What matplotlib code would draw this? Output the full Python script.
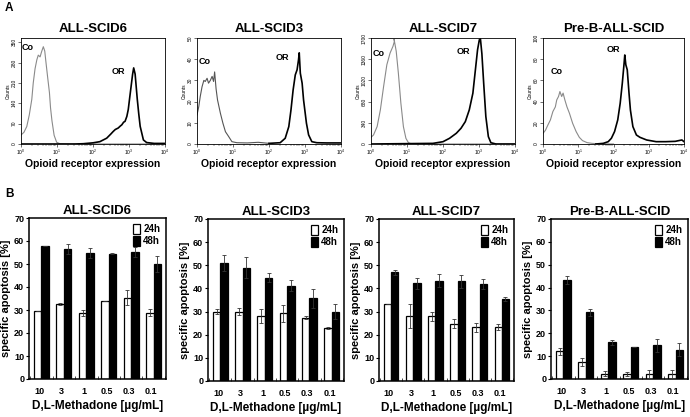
import numpy as np
import matplotlib
matplotlib.use('Agg')
from matplotlib import pyplot as plt
from matplotlib.patches import Patch

plt.rcParams['font.family'] = ['Liberation Sans', 'DejaVu Sans']

W, H = 690, 417

# ---- panel A: flow histograms (x in log10 channel, y in counts) ----
hist_titles = ['ALL-SCID6', 'ALL-SCID3', 'ALL-SCID7', 'Pre-B-ALL-SCID']
hist_ymax = [365, 50, 1700, 100]
hist_yticks = [[0, 70, 140, 210, 280, 350], [0, 10, 20, 30, 40, 50],
               [0, 340, 680, 1020, 1360, 1700], [0, 20, 40, 60, 80, 100]]

co6_x = [0.0, 0.08, 0.16, 0.23, 0.30, 0.34, 0.39, 0.44, 0.48, 0.53, 0.57, 0.62, 0.66,
         0.69, 0.74, 0.79, 0.82, 0.86, 0.92, 0.99, 1.08, 1.3, 2.0, 3.0, 4.0]
co6_y = [31, 40, 60, 100, 154, 210, 259, 290, 306, 300, 317, 335, 320,
         285, 230, 177, 125, 80, 30, 6, 1, 0, 0, 0, 0]
or6_x = [0.0, 1.5, 1.73, 2.0, 2.19, 2.38, 2.5, 2.56, 2.62, 2.7, 2.76, 2.8, 2.85, 2.89,
         2.94, 2.98, 3.02, 3.06, 3.1, 3.13, 3.17, 3.23, 3.27, 3.31, 3.4, 3.49, 3.7, 4.0]
or6_y = [0, 0, 1, 4, 8, 20, 35, 43, 50, 55, 62, 66, 75, 78,
         95, 119, 160, 200, 240, 262, 241, 154, 105, 61, 14, 5, 2, 2]

co3_x = [0.0, 0.05, 0.09, 0.14, 0.19, 0.23, 0.28, 0.32, 0.37, 0.42, 0.46, 0.49, 0.53,
         0.57, 0.65, 0.72, 0.79, 0.88, 0.97, 1.11, 1.4, 1.7, 2.0]
co3_y = [13.7, 17.7, 22.4, 27, 30, 29.5, 31, 28.7, 30, 31.9, 29.5, 34, 26,
         20.8, 14.5, 9.8, 5.8, 3.5, 1.1, 0.6, 0.5, 0.8, 0.3]
or3_x = [2.0, 2.2, 2.31, 2.45, 2.55, 2.61, 2.67, 2.73, 2.78, 2.82, 2.84, 2.87, 2.92,
         2.96, 3.04, 3.1, 3.19, 3.33, 3.6, 3.8, 4.0]
or3_y = [0.3, 0.5, 0.6, 2.7, 8.2, 16, 25.5, 32.6, 35, 39.7, 43, 33.4, 28.7,
         20.8, 9.8, 4.3, 1.1, 0.6, 0.5, 0.5, 0.5]

co7_x = [0.0, 0.07, 0.17, 0.26, 0.35, 0.44, 0.53, 0.61, 0.65, 0.64, 0.70, 0.76, 0.83,
         0.90, 0.97, 1.04, 1.13, 2.0, 4.0]
co7_y = [107, 145, 279, 547, 922, 1271, 1459, 1566, 1646, 1684, 1490, 1137, 654,
         279, 91, 21, 0, 0, 0]
or7_x = [0.0, 1.72, 2.0, 2.18, 2.37, 2.5, 2.62, 2.73, 2.83, 2.9, 2.96, 3.01, 3.04,
         3.08, 3.13, 3.19, 3.26, 3.33, 3.47, 4.0]
or7_y = [0, 10, 37, 91, 172, 252, 359, 547, 815, 1190, 1512, 1673, 1684,
         1448, 976, 440, 118, 21, 0, 0]

cob_x = [0.0, 0.07, 0.14, 0.21, 0.28, 0.35, 0.39, 0.44, 0.48, 0.53, 0.57, 0.62, 0.68,
         0.75, 0.84, 0.94, 1.03, 1.12, 1.25, 1.39, 1.6, 2.0]
cob_y = [10, 13, 18, 22.7, 30.6, 35, 41.6, 44.8, 49.5, 44.8, 48, 41.6, 35,
         29, 19.6, 11.7, 6.3, 3.2, 1.3, 0.6, 0.2, 0]
orb_x = [1.5, 1.71, 1.85, 1.94, 2.03, 2.12, 2.19, 2.25, 2.3, 2.32, 2.35, 2.39, 2.44,
         2.48, 2.55, 2.65, 2.75, 2.94, 3.21, 3.48, 3.75, 3.94, 4.0]
orb_y = [0, 0.6, 2.2, 5.4, 11.7, 22.7, 38.5, 57.4, 76, 84, 74.7, 70, 48,
         32, 16.4, 8.5, 6.3, 3.8, 2.2, 2.2, 2.5, 3.8, 2.2]

co_curves = [(co6_x, co6_y), (co3_x, co3_y), (co7_x, co7_y), (cob_x, cob_y)]
or_curves = [(or6_x, or6_y), (or3_x, or3_y), (or7_x, or7_y), (orb_x, orb_y)]

# label spots in figure pixels: (Co x, Co y, OR x, OR y)
hist_labels = [(28, 47, 118, 72), (205, 62, 282, 57), (379, 53, 463, 52), (557, 72, 613, 50)]
hist_boxes = [(21, 165), (197, 341), (371, 515), (543, 684)]

# ---- panel B: specific apoptosis bars ----
conc = ['10', '3', '1', '0.5', '0.3', '0.1']

scid6_24 = [29.6, 32.5, 28.6, 33.8, 35.4, 28.9]
scid6_24e = [0, 0.5, 1.3, 0, 3.3, 1.6]
scid6_48 = [58, 56.6, 54.8, 54.5, 55.1, 50]
scid6_48e = [0, 2.1, 2.3, 0.3, 2.2, 3.3]

scid3_24 = [30, 30, 28, 29.2, 27.3, 23]
scid3_24e = [1, 1.4, 3, 3.6, 0.6, 0.4]
scid3_48 = [50.9, 49, 44.7, 41.2, 35.7, 30]
scid3_48e = [3.5, 4.4, 1.9, 2.5, 4.1, 3.1]

scid7_24 = [33.1, 28, 28, 24.7, 23.2, 23.4]
scid7_24e = [0, 5.1, 2, 1.9, 2, 1.2]
scid7_48 = [47, 42.3, 43.4, 43, 41.8, 35.5]
scid7_48e = [1, 2.4, 2.8, 2.9, 2.2, 1]

preb_24 = [12.1, 7.4, 2.3, 2.3, 2.3, 2.3]
preb_24e = [1.4, 1.8, 1, 0.8, 1.8, 1.8]
preb_48 = [43.4, 29.1, 16, 14, 14.7, 12.8]
preb_48e = [1.7, 1.5, 1.2, 0, 2.8, 2.9]

bar_sets = [(scid6_24, scid6_24e, scid6_48, scid6_48e),
            (scid3_24, scid3_24e, scid3_48, scid3_48e),
            (scid7_24, scid7_24e, scid7_48, scid7_48e),
            (preb_24, preb_24e, preb_48, preb_48e)]
bar_boxes = [(29, 166, 218, 379), (208, 344, 219, 381), (379, 514, 219, 381), (551, 688, 219, 379)]

fig = plt.figure(figsize=(W / 100, H / 100), dpi=100)


def rect(l, r, t, b):
    return [l / W, 1 - b / H, (r - l) / W, (b - t) / H]


for k in range(4):
    l, r = hist_boxes[k]
    ax = fig.add_axes(rect(l, r, 38, 144))
    cx, cy = co_curves[k]
    ox, oy = or_curves[k]
    ax.plot(10 ** np.array(cx), cy, color='#8a8a8a' if k != 1 else '#555555', lw=0.8)
    ax.plot(10 ** np.array(ox), oy, color='black', lw=1.2)
    ax.set_xscale('log')
    ax.set_xlim(1, 1e4)
    ax.set_ylim(0, hist_ymax[k])
    ax.set_yticks(hist_yticks[k])
    ax.tick_params(axis='both', which='major', labelsize=3.5, length=2, width=0.4, pad=1)
    ax.tick_params(axis='x', which='minor', length=1.2, width=0.3)
    plt.setp(ax.get_yticklabels(), rotation=90, va='center')
    ax.set_ylabel('Counts', fontsize=3.5, labelpad=1)
    ax.set_xlabel('Opioid receptor expression', fontsize=7.5, fontweight='bold', labelpad=1)
    ax.set_title(hist_titles[k], fontsize=9.5, fontweight='bold', pad=4)
    for s in ax.spines.values():
        s.set_linewidth(0.6)
    clx, cly, olx, oly = hist_labels[k]
    fig.text(clx / W, 1 - cly / H, 'Co', fontsize=6.5, fontweight='bold', ha='center', va='center')
    fig.text(olx / W, 1 - oly / H, 'OR', fontsize=6.5, fontweight='bold', ha='center', va='center')

for k in range(4):
    l, r, t, b = bar_boxes[k]
    ax = fig.add_axes(rect(l, r, t, b))
    v24, e24, v48, e48 = bar_sets[k]
    x = np.arange(len(conc))
    w = 0.33
    ax.bar(x - w / 2, v24, w, color='white', edgecolor='black', lw=0.9, zorder=2)
    ax.bar(x + w / 2, v48, w, color='black', edgecolor='black', lw=0.9, zorder=2)
    ax.errorbar(x - w / 2, v24, yerr=e24, fmt='none', ecolor='#333333', elinewidth=0.6,
                capsize=1.5, capthick=0.6, zorder=3)
    ax.errorbar(x + w / 2, v48, yerr=e48, fmt='none', ecolor='#333333', elinewidth=0.6,
                capsize=1.5, capthick=0.6, zorder=3)
    ax.set_xlim(-0.55, 5.55)
    ax.set_ylim(0, 70)
    ax.set_yticks(range(0, 71, 10))
    ax.set_xticks(x - 0.1)
    ax.set_xticklabels(conc)
    ax.set_xticks(np.arange(-0.5, 6, 1), minor=True)
    ax.tick_params(axis='x', which='major', length=0, labelsize=6.5, pad=6)
    ax.tick_params(axis='x', which='minor', length=2, width=0.5, direction='in')
    ax.tick_params(axis='y', labelsize=6.5, length=2.5, width=0.8, pad=1)
    for lab in ax.get_xticklabels() + ax.get_yticklabels():
        lab.set_fontweight('bold')
    ax.set_ylabel('specific apoptosis [%]', fontsize=8, fontweight='bold', labelpad=2)
    ax.set_xlabel('D,L-Methadone [µg/mL]', fontsize=8.5, fontweight='bold', labelpad=3)
    ax.set_title(hist_titles[k], fontsize=9.5, fontweight='bold', pad=3)
    for s in ax.spines.values():
        s.set_linewidth(1.1)
    handles = [Patch(facecolor='white', edgecolor='black', lw=0.9, label='24h'),
               Patch(facecolor='black', edgecolor='black', lw=0.9, label='48h')]
    leg = ax.legend(handles=handles, loc='upper right', frameon=False, handlelength=0.7,
                    handleheight=1.2, handletextpad=0.3, labelspacing=0.15,
                    borderaxespad=0.2, prop={'size': 7, 'weight': 'bold'})

fig.text(5 / W, 1 - 8 / H, 'A', fontsize=8.5, fontweight='bold', ha='left', va='center')
fig.text(5 / W, 1 - 194 / H, 'B', fontsize=8.5, fontweight='bold', ha='left', va='center')

fig.savefig('out.png', dpi=100)
